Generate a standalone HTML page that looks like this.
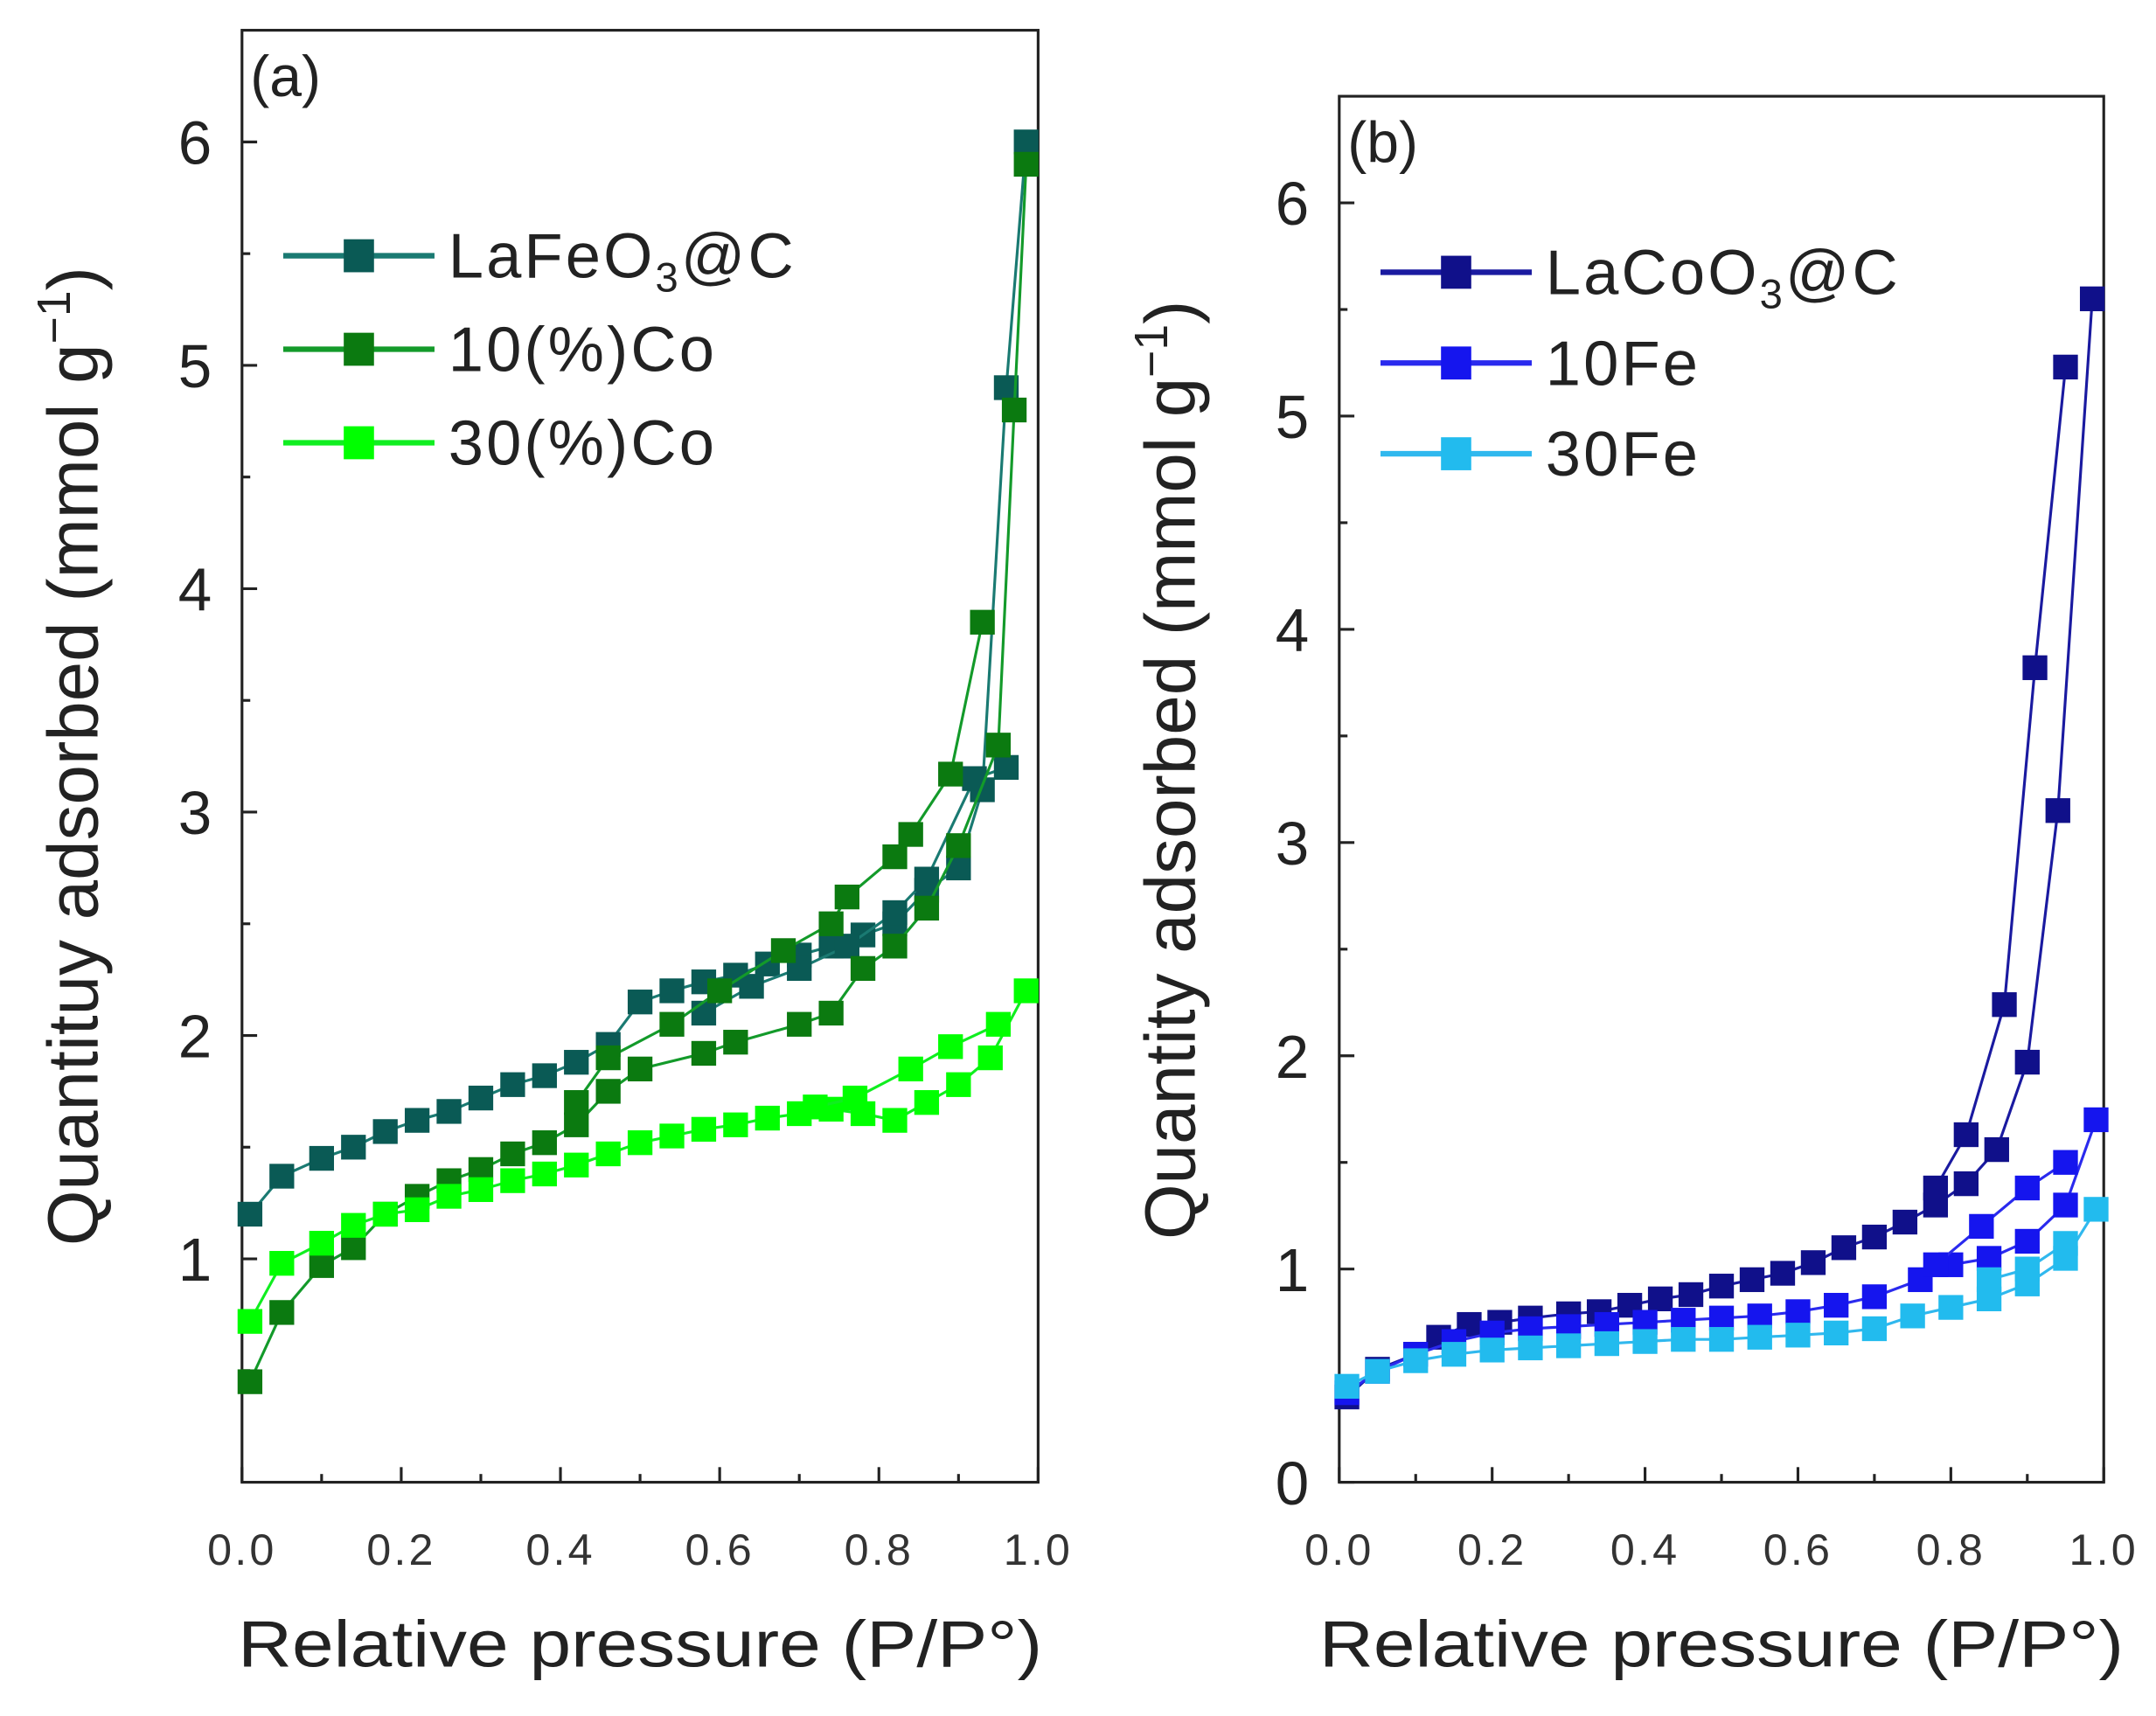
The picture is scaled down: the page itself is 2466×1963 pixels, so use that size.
<!DOCTYPE html>
<html><head><meta charset="utf-8">
<style>
html,body{margin:0;padding:0;background:#fff;}
svg{display:block;font-family:"Liberation Sans",Arial,sans-serif;}
</style></head>
<body>
<svg id="chart" width="2466" height="1963" viewBox="0 0 1568 1248" preserveAspectRatio="none" xmlns="http://www.w3.org/2000/svg">
<g id="pa"></g>
<g id="pb"></g>
</svg>
<script>
const NS="http://www.w3.org/2000/svg";
// Panel (a) data
const aX_LaFe_ads=[0.01,0.05,0.1,0.14,0.18,0.22,0.26,0.3,0.34,0.38,0.42,0.46,0.5,0.54,0.58,0.62,0.66,0.7,0.74,0.78,0.82,0.86,0.9,0.93,0.96,0.985];
const aY_LaFe_ads=[1.2,1.37,1.45,1.5,1.57,1.62,1.66,1.72,1.78,1.82,1.88,1.96,2.15,2.2,2.24,2.27,2.32,2.36,2.4,2.45,2.5,2.65,2.75,3.1,4.9,6.0];
const aX_LaFe_des=[0.96,0.92,0.86,0.82,0.76,0.7,0.64,0.58];
const aY_LaFe_des=[3.2,3.15,2.7,2.55,2.4,2.3,2.22,2.1];
const aX_10Co_ads=[0.01,0.05,0.1,0.14,0.18,0.22,0.26,0.3,0.34,0.38,0.42,0.46,0.5,0.58,0.62,0.7,0.74,0.78,0.82,0.86,0.9,0.95,0.97,0.985];
const aY_10Co_ads=[0.45,0.76,0.97,1.05,1.2,1.28,1.35,1.4,1.47,1.52,1.6,1.75,1.85,1.92,1.97,2.05,2.1,2.3,2.4,2.57,2.85,3.3,4.8,5.9];
const aX_10Co_des=[0.93,0.89,0.84,0.82,0.76,0.74,0.68,0.6,0.54,0.46,0.42];
const aY_10Co_des=[3.85,3.17,2.9,2.8,2.62,2.5,2.38,2.2,2.05,1.9,1.7];
const aX_30Co_ads=[0.01,0.05,0.1,0.14,0.18,0.22,0.26,0.3,0.34,0.38,0.42,0.46,0.5,0.54,0.58,0.62,0.66,0.7,0.74,0.78,0.82,0.86,0.9,0.94,0.985];
const aY_30Co_ads=[0.72,0.98,1.07,1.15,1.2,1.22,1.28,1.31,1.35,1.38,1.42,1.47,1.52,1.55,1.58,1.6,1.63,1.65,1.67,1.65,1.62,1.7,1.78,1.9,2.2];
const aX_30Co_des=[0.95,0.89,0.84,0.77,0.72];
const aY_30Co_des=[2.05,1.95,1.85,1.72,1.68];
// Panel (b) data
const bX_LaCo_ads=[0.01,0.05,0.1,0.13,0.17,0.21,0.25,0.3,0.34,0.38,0.42,0.46,0.5,0.54,0.58,0.62,0.66,0.7,0.74,0.78,0.82,0.86,0.9,0.94,0.985];
const bY_LaCo_ads=[0.4,0.53,0.6,0.68,0.74,0.75,0.77,0.79,0.8,0.83,0.86,0.88,0.92,0.95,0.98,1.03,1.1,1.15,1.22,1.3,1.4,1.56,1.97,3.15,5.55];
const bX_LaCo_des=[0.95,0.91,0.87,0.82,0.78];
const bY_LaCo_des=[5.23,3.82,2.24,1.63,1.38];
const bX_10Fe_ads=[0.01,0.05,0.1,0.15,0.2,0.25,0.3,0.35,0.4,0.45,0.5,0.55,0.6,0.65,0.7,0.76,0.8,0.85,0.9,0.95,0.99];
const bY_10Fe_ads=[0.42,0.52,0.6,0.66,0.7,0.72,0.73,0.74,0.75,0.76,0.77,0.78,0.8,0.83,0.87,0.95,1.02,1.05,1.13,1.3,1.7];
const bX_10Fe_des=[0.95,0.9,0.84,0.78];
const bY_10Fe_des=[1.5,1.38,1.2,1.02];
const bX_30Fe_ads=[0.01,0.05,0.1,0.15,0.2,0.25,0.3,0.35,0.4,0.45,0.5,0.55,0.6,0.65,0.7,0.75,0.8,0.85,0.9,0.95,0.99];
const bY_30Fe_ads=[0.45,0.52,0.57,0.6,0.62,0.63,0.64,0.65,0.66,0.67,0.67,0.68,0.69,0.7,0.72,0.78,0.82,0.86,0.93,1.05,1.28];
const bX_30Fe_des=[0.95,0.9,0.85];
const bY_30Fe_des=[1.12,1.0,0.95];
const yTicksA=[1,2,3,4,5,6];
const yTicksB=[0,1,2,3,4,5,6];
const xTicks=[0.0,0.2,0.4,0.6,0.8,1.0];

function el(p,t,a){const e=document.createElementNS(NS,t);for(const k in a)e.setAttribute(k,a[k]);p.appendChild(e);return e;}

function panel(g,L,R,T,B,ymax,yTicks,label,ytitle,yOff,series,legY,legItems){
  const sx=v=>L+(R-L)*v, sy=v=>B-(B-T)*v/ymax;
  const fr=el(g,'rect',{x:L,y:T,width:R-L,height:B-T,fill:'none',stroke:'#222','stroke-width':2});
  
  
  for(let i=0;i<=10;i++){const v=i/10;const x=sx(v);
    el(g,'line',{x1:x,x2:x,y1:B,y2:B-(i%2?6:11),stroke:'#222','stroke-width':2});}
  xTicks.forEach(v=>{const t=el(g,'text',{x:sx(v),y:B+60,'font-size':32,'text-anchor':'middle',fill:'#333','letter-spacing':2});t.textContent=v.toFixed(1);
    
    });
  yTicks.forEach(v=>{const y=sy(v);el(g,'line',{x1:L,x2:L+11,y1:y,y2:y,stroke:'#222','stroke-width':2});
    const t=el(g,'text',{x:L-22,y:y+16,'font-size':44,'text-anchor':'end',fill:'#222'});t.textContent=v;
    
    });
  for(let v=0.5;v<ymax;v+=1){el(g,'line',{x1:L,x2:L+6,y1:sy(v),y2:sy(v),stroke:'#222','stroke-width':2});}
  const xt=el(g,'text',{x:(L+R)/2,y:B+134,'font-size':48,'text-anchor':'middle',fill:'#222',textLength:585,lengthAdjust:'spacingAndGlyphs'});xt.textContent='Relative pressure (P/P°)';
  
  
  const yt=el(g,'text',{x:0,y:0,'font-size':52,'text-anchor':'middle',fill:'#222',transform:`translate(${L-105},${(T+B)/2+yOff}) rotate(-90)`});
  yt.innerHTML=ytitle+' (mmol g<tspan dy="-20" font-size="34">−1</tspan><tspan dy="20">)</tspan>';
  
  
  const pl=el(g,'text',{x:L+6,y:T+48,'font-size':42,fill:'#222'});pl.textContent=label;
  
  
  series.forEach(s=>{
    const sg=el(g,'g',{});
    
    
    [[s.xa,s.ya],[s.xd,s.yd]].forEach(([xs,ys])=>{
      el(sg,'polyline',{points:xs.map((x,i)=>sx(x)+','+sy(ys[i])).join(' '),fill:'none',stroke:s.c,'stroke-width':2});
      xs.forEach((x,i)=>{const r=el(sg,'rect',{x:sx(x)-9,y:sy(ys[i])-9,width:18,height:18,fill:s.f});
        
        });
    });
  });
  legItems.forEach((it,i)=>{const y=legY[0]+i*legY[1];const lg=el(g,'g',{});
    
    
    el(lg,'line',{x1:L+30,x2:L+140,y1:y,y2:y,stroke:it.c,'stroke-width':4});
    el(lg,'rect',{x:L+74,y:y-12,width:22,height:24,fill:it.f});
    const t=el(lg,'text',{x:L+150,y:y+16,'font-size':46,fill:'#222','letter-spacing':2});t.innerHTML=it.t;});
}
panel(document.getElementById('pa'),176,755,22,1078,6.5,yTicksA,'(a)','Quantituy adsorbed',0,[
 {name:'series-lafeo3-c',c:'#1a7a72',f:'#0a5a55',xa:aX_LaFe_ads,ya:aY_LaFe_ads,xd:aX_LaFe_des,yd:aY_LaFe_des},
 {name:'series-10co',c:'#139a2a',f:'#0b7a10',xa:aX_10Co_ads,ya:aY_10Co_ads,xd:aX_10Co_des,yd:aY_10Co_des},
 {name:'series-30co',c:'#10ee20',f:'#00ff00',xa:aX_30Co_ads,ya:aY_30Co_ads,xd:aX_30Co_des,yd:aY_30Co_des}],
 [186,68],[{c:'#1a7a72',f:'#0a5a55',t:'LaFeO<tspan dy="10" font-size="30">3</tspan><tspan dy="-10">@C</tspan>'},{c:'#139a2a',f:'#0b7a10',t:'10(%)Co'},{c:'#10ee20',f:'#00ff00',t:'30(%)Co'}]);
panel(document.getElementById('pb'),974,1530,70,1078,6.5,yTicksB,'(b)','Quantity adsorbed',-14,[
 {name:'series-lacoo3-c',c:'#1a1aa0',f:'#10108a',xa:bX_LaCo_ads,ya:bY_LaCo_ads,xd:bX_LaCo_des,yd:bY_LaCo_des},
 {name:'series-10fe',c:'#2a2aee',f:'#1515ee',xa:bX_10Fe_ads,ya:bY_10Fe_ads,xd:bX_10Fe_des,yd:bY_10Fe_des},
 {name:'series-30fe',c:'#30b8ee',f:'#22bbee',xa:bX_30Fe_ads,ya:bY_30Fe_ads,xd:bX_30Fe_des,yd:bY_30Fe_des}],
 [198,66],[{c:'#1a1aa0',f:'#10108a',t:'LaCoO<tspan dy="10" font-size="30">3</tspan><tspan dy="-10">@C</tspan>'},{c:'#2a2aee',f:'#1515ee',t:'10Fe'},{c:'#30b8ee',f:'#22bbee',t:'30Fe'}]);
</script>
</body></html>
